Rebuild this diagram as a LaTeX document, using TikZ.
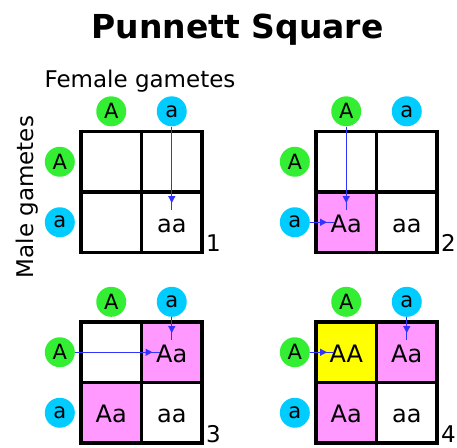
\documentclass[tikz,border=0pt]{standalone}
\usepackage{fontspec}
\setmainfont{DejaVu Sans}
\usetikzlibrary{arrows.meta,positioning,decorations.markings}
\definecolor{GamGreen}{HTML}{33EE33}
\definecolor{GamCyan}{HTML}{00CCFF}
\definecolor{CellPink}{HTML}{FF99FF}
\definecolor{CellYellow}{HTML}{FFFF00}
\definecolor{ArrowBlue}{HTML}{3333FF}

\tikzset{
  gamete/.style={circle,minimum size=30pt,inner sep=0pt,font=\fontsize{21}{22}\selectfont},
  gamA/.style={gamete,fill=GamGreen},
  gama/.style={gamete,fill=GamCyan},
  cellbox/.style={draw=black,line width=3.5pt,minimum size=60.5pt,inner sep=0pt,outer sep=0pt,
    anchor=north west,text height=20pt,text depth=0pt,font=\fontsize{24}{26}\selectfont},
  flow/.style={ArrowBlue,line width=1.2pt,postaction={decorate},
    decoration={markings,mark=at position -7pt with {\arrow{Triangle[length=7pt,width=7pt]}}}},
  tag/.style={anchor=base west,inner sep=0pt,font=\fontsize{23}{25}\selectfont},
}

\begin{document}
\begin{tikzpicture}[x=1pt,y=-1pt]
  \useasboundingbox (0,0) rectangle (457,447);
  \node[font=\bfseries\fontsize{33}{36}\selectfont,anchor=base] (title) at (237.5,38) {Punnett Square};
  \node[font=\fontsize{23}{26}\selectfont,anchor=base] (female) at (140,87) {Female gametes};
  \node[font=\fontsize{23}{26}\selectfont,anchor=base,rotate=90] (male) at (33,197) {Male gametes};
  % the four squares, step by step
  \foreach \g/\x/\y/\fa/\fb/\fc/\fd/\ta/\tb/\tc/\td in {
    1/81/131.5/white/white/white/white/{}/{}/{}/aa,
    2/316/131.5/white/white/CellPink/white/{}/{}/Aa/aa,
    3/81/322/white/CellPink/CellPink/white/{}/Aa/Aa/aa,
    4/316/322/CellYellow/CellPink/CellPink/white/AA/Aa/Aa/aa}{
    \node[cellbox,fill=\fa] (c\g-11) at (\x,\y) {\ta};
    \node[cellbox,fill=\fb] (c\g-12) at ({\x+60.5},\y) {\tb};
    \node[cellbox,fill=\fc] (c\g-21) at (\x,{\y+60.5}) {\tc};
    \node[cellbox,fill=\fd] (c\g-22) at ({\x+60.5},{\y+60.5}) {\td};
    \node[gamA,above=5pt of c\g-11] (A\g) {A};
    \node[gama,above=5pt of c\g-12] (a\g) {a};
    \node[gamA,left=6pt of c\g-11] (rA\g) {A};
    \node[gama,left=6pt of c\g-21] (ra\g) {a};
    \node[tag] (n\g) at ([xshift=4pt,yshift=1pt]c\g-22.south east) {\g};
  }
  % gametes meeting in a cell
  \foreach \s/\t in {a1/c1-22,A2/c2-21,a3/c3-12,a4/c4-12}
    \draw[flow] (\s) -- ([yshift=-18pt]\t.north);
  \foreach \s/\t in {ra2/c2-21,rA3/c3-12,rA4/c4-11}
    \draw[flow] (\s) -- ([xshift=18pt]\t.west);
\end{tikzpicture}
\end{document}
